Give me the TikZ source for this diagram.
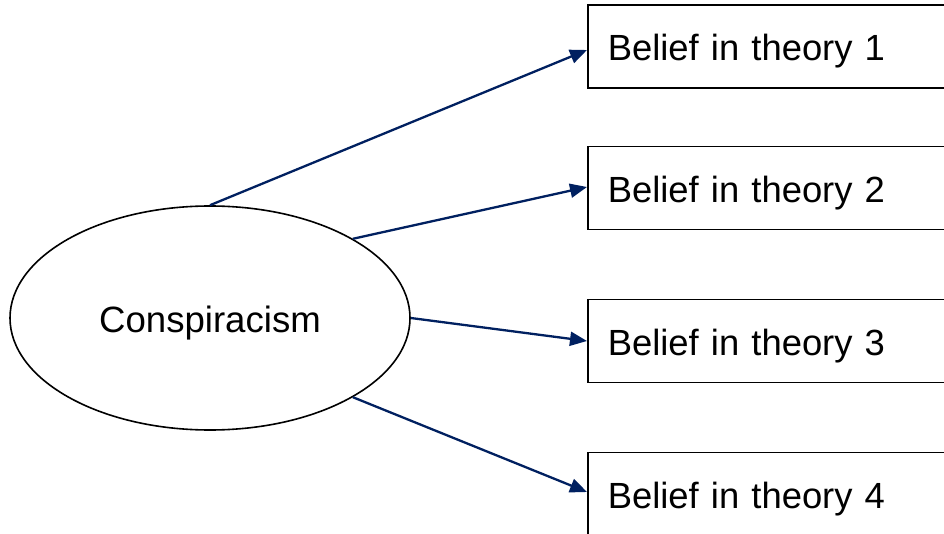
\documentclass[tikz,border=0pt]{standalone}
\usepackage{fontspec}
\setmainfont{Liberation Sans}
\usetikzlibrary{shapes.geometric,arrows.meta}
\definecolor{navy}{RGB}{0,32,96}
\tikzset{
  latent/.style={draw=black, line width=1.6pt, ellipse, minimum width=400pt, minimum height=224pt, inner sep=0pt, text height=32pt, text depth=3pt, font=\fontsize{36.6}{44}\selectfont},
  obsbox/.style={draw=black, line width=1.6pt, rectangle, anchor=west, minimum height=83pt, text width=340pt, inner xsep=20pt, inner ysep=0pt, text height=32pt, text depth=3pt, align=left, font=\fontsize{36.4}{44}\selectfont},
  loading/.style={draw=navy, line width=2.3pt, -{Triangle[length=17pt,width=14pt]}}
}
\begin{document}
\begin{tikzpicture}[x=1pt,y=-1pt]
\clip (0,0) rectangle (944,534);
\fill[white] (0,0) rectangle (944,534);
\node[latent] (c) at (210,318) {Conspiracism};
\node[obsbox] (b1) at (587,46.5) {Belief in theory 1};
\node[obsbox] (b2) at (587,188) {Belief in theory 2};
\node[obsbox] (b3) at (587,341) {Belief in theory 3};
\node[obsbox] (b4) at (587,494) {Belief in theory 4};
\draw[loading] (c.90) -- ([yshift=-3.5pt]b1.west);
\draw[loading] (c.29.4) -- ([yshift=1pt]b2.west);
\draw[loading] (c.0) -- (b3.west);
\draw[loading] (c.-29.4) -- ([yshift=2pt]b4.west);
\end{tikzpicture}
\end{document}
